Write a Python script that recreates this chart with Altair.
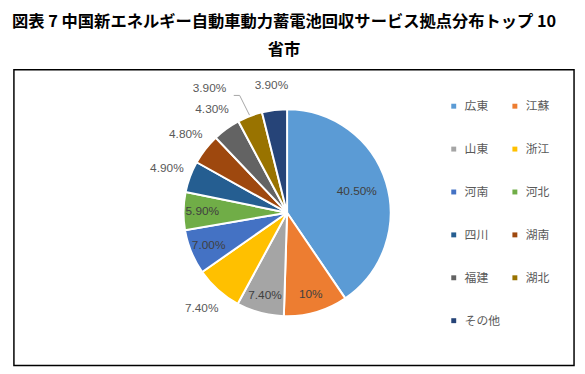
import altair as alt
import pandas as pd

regions = ["広東", "江蘇", "山東", "浙江", "河南", "河北", "四川", "湖南", "福建", "湖北", "その他"]
shares = [40.5, 10.0, 7.4, 7.4, 7.0, 5.9, 4.9, 4.8, 4.3, 3.9, 3.9]
labels = ["40.50%", "10%", "7.40%", "7.40%", "7.00%", "5.90%", "4.90%", "4.80%", "4.30%", "3.90%", "3.90%"]
placement = ["inner", "inside", "inside", "outside", "inside", "inside",
             "outside", "outside", "outside", "callout", "outside"]
colors = ["#5B9BD5", "#ED7D31", "#A5A5A5", "#FFC000", "#4472C4", "#70AD47",
          "#255E91", "#9E480E", "#636363", "#997300", "#264478"]

df = pd.DataFrame({
    "region": regions,
    "share": shares,
    "label": labels,
    "placement": placement,
    "idx": list(range(len(regions))),
})

CX, CY = 277, 145
R = 105

base = alt.Chart(df).encode(
    theta=alt.Theta("share:Q", stack=True),
    order=alt.Order("idx:Q"),
    x=alt.value(CX),
    y=alt.value(CY),
)

pie = base.mark_arc(outerRadius=R, stroke="white", strokeWidth=2).encode(
    color=alt.Color(
        "region:N",
        scale=alt.Scale(domain=regions, range=colors),
        sort=regions,
        legend=alt.Legend(
            title=None, orient="none", legendX=440, legendY=31, columns=2,
            direction="horizontal",
            symbolType="square", symbolSize=25, symbolStrokeWidth=0,
            labelFont="Noto Sans CJK JP", labelFontSize=12, labelColor="#595959",
            rowPadding=31.5, columnPadding=8, labelOffset=5, padding=0,
        ),
    )
)


def label_layer(kind, radius, color, dx=0, dy=0):
    return base.transform_calculate(
        t=f"datum.placement == '{kind}' ? datum.label : ''"
    ).mark_text(
        radius=radius, font="Liberation Sans", fontSize=12, color=color, dx=dx, dy=dy
    ).encode(text="t:N")


inner_t = label_layer("inner", 74, "#404040")
inside_t = label_layer("inside", 86, "#404040")
outside_t = label_layer("outside", 130, "#595959")
callout_t = label_layer("callout", 130, "#595959", dx=-32, dy=-5)

lead = alt.Chart(df).transform_joinaggregate(
    total="sum(share)"
).transform_window(
    cum="sum(share)", sort=[alt.SortField("idx")], frame=[None, 0]
).transform_calculate(
    a="2*PI*(datum.cum - datum.share/2)/datum.total"
).transform_filter(
    "datum.placement == 'callout'"
).transform_calculate(
    xa=f"{CX} + {R + 1}*sin(datum.a)",
    ya=f"{CY} - {R + 1}*cos(datum.a)",
).transform_calculate(
    xb="datum.xa - 10", yb="datum.ya - 20"
).transform_calculate(
    xc="datum.xb - 6"
)

seg1 = lead.mark_rule(color="#A6A6A6", strokeWidth=1).encode(
    x=alt.X("xa:Q", scale=None, axis=None),
    y=alt.Y("ya:Q", scale=None, axis=None),
    x2="xb:Q", y2="yb:Q",
)
seg2 = lead.mark_rule(color="#A6A6A6", strokeWidth=1).encode(
    x=alt.X("xb:Q", scale=None, axis=None),
    y=alt.Y("yb:Q", scale=None, axis=None),
    x2="xc:Q",
)

chart = alt.layer(pie, seg1, seg2, inner_t, inside_t, outside_t, callout_t).properties(
    width=568,
    height=300,
    autosize=alt.AutoSizeParams(type="none"),
    padding={"left": 6, "top": 60, "right": 3, "bottom": 6},
    background="white",
    title=alt.Title(
        ["図表 7 中国新エネルギー自動車動力蓄電池回収サービス拠点分布トップ 10", "省市"],
        font="Noto Sans CJK JP", fontSize=16.5, fontWeight="bold", color="#000000",
        anchor="middle", dx=-10, offset=11, lineHeight=29,
    ),
).configure_view(stroke="#000000", strokeWidth=1.5, fill="white")

chart.save("out.html", embed_options={"renderer": "svg", "actions": False})
